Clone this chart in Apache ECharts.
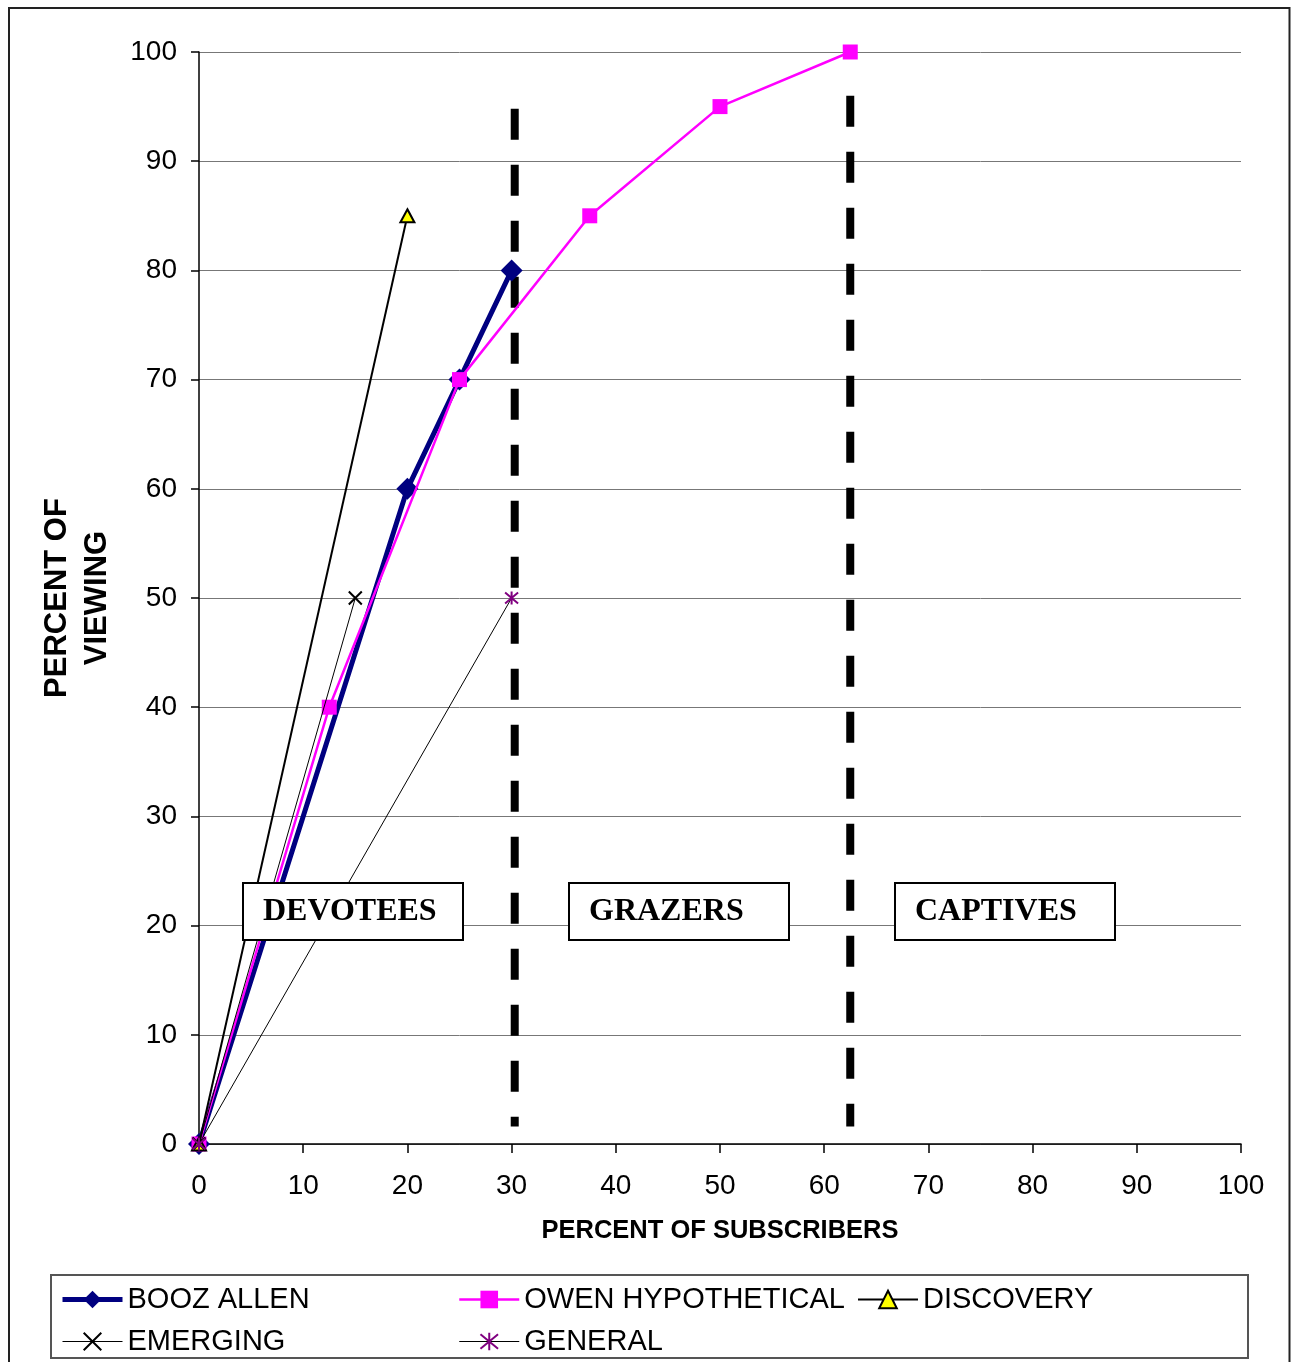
<!DOCTYPE html>
<html>
<head>
<meta charset="utf-8">
<title>Viewing concentration by subscriber segment</title>
<script src="https://cdn.jsdelivr.net/npm/echarts@6/dist/echarts.min.js"></script>
<style>
  html, body { margin: 0; padding: 0; background: #fff; }
  #chart { width: 1291px; height: 1362px; }
</style>
</head>
<body>
<div id="chart"></div>
<script>
// Cumulative percent of viewing vs. percent of subscribers
const boozX = [0, 20, 25, 30];
const boozY = [0, 60, 70, 80];
const owenX = [0, 12.5, 25, 37.5, 50, 62.5];
const owenY = [0, 40, 70, 85, 95, 100];
const discoveryX = [0, 20];
const discoveryY = [0, 85];
const emergingX = [0, 15];
const emergingY = [0, 50];
const generalX = [0, 30];
const generalY = [0, 50];

// Segment boundaries (dashed verticals): x position, top and bottom extent
const dividerX = [30.3, 62.5];
const dividerTop = [94.8, 96];
const dividerBottom = [1.6, 1.6];

const segmentNames = ['DEVOTEES', 'GRAZERS', 'CAPTIVES'];
const seriesNames = ['BOOZ ALLEN', 'OWEN HYPOTHETICAL', 'DISCOVERY', 'EMERGING', 'GENERAL'];

const pairs = (xs, ys) => xs.map((x, i) => [x, ys[i]]);

const FONT = "'Liberation Sans', Arial, sans-serif";
const SERIF = "'Liberation Serif', 'Times New Roman', serif";

const chart = echarts.init(document.getElementById('chart'), null, { renderer: 'canvas' });

const crossPath = 'path://M0,0L10,10M10,0L0,10';
const starPath = 'path://M0,0L10,10M10,0L0,10M5,-1L5,11';

const lineWidths = [5, 2.5, 2, 1, 1];

const dividerSeries = dividerX.map((x, i) => ({
  name: 'divider' + i,
  type: 'line',
  data: [[x, dividerTop[i]], [x, dividerBottom[i]]],
  symbol: 'none',
  silent: true,
  lineStyle: { color: '#000', width: 8, type: [31, 25] },
  z: 1
}));

// Segment label boxes
const boxLeft = [242, 568, 894];
const boxes = segmentNames.map((name, i) => ({
  type: 'group',
  left: boxLeft[i],
  top: 882,
  z: 100,
  children: [
    { type: 'rect', shape: { x: 0, y: 0, width: 220, height: 57 },
      style: { fill: '#fff', stroke: '#000', lineWidth: 2 }, z: 100 },
    { type: 'text', x: 20, y: 29,
      style: { text: name, font: 'bold 32px ' + SERIF, fill: '#000', verticalAlign: 'middle' }, z: 101 }
  ]
}));

const legendBase = {
  orient: 'vertical',
  padding: 0,
  itemWidth: 60,
  itemHeight: 22,
  itemGap: 13,
  textStyle: { fontFamily: FONT, fontSize: 29, color: '#000', lineHeight: 28, padding: [0, 0, 0, 0] },
  selectedMode: false
};
const legendItem = (idx) => ({ name: seriesNames[idx], lineStyle: { width: lineWidths[idx] } });

const option = {
  backgroundColor: '#fff',
  animation: false,
  grid: { left: 199, top: 52, width: 1042, height: 1092, containLabel: false },
  legend: [
    Object.assign({}, legendBase, { left: 60, top: 1285, data: [legendItem(0), legendItem(3)] }),
    Object.assign({}, legendBase, { left: 458, top: 1285, data: [legendItem(1), legendItem(4)] }),
    Object.assign({}, legendBase, { left: 857, top: 1285, data: [legendItem(2)] })
  ],
  xAxis: {
    type: 'value',
    min: 0, max: 100, interval: 10,
    name: 'PERCENT OF SUBSCRIBERS',
    nameLocation: 'middle',
    nameGap: 74,
    nameTextStyle: { fontFamily: FONT, fontSize: 25.5, fontWeight: 'bold', color: '#000' },
    axisLine: { onZero: false, lineStyle: { color: '#000', width: 1.5 } },
    axisTick: { show: true, length: 9, inside: false, lineStyle: { color: '#000', width: 1.5 } },
    axisLabel: { fontFamily: FONT, fontSize: 28, color: '#000', margin: 28 },
    splitLine: { show: false }
  },
  yAxis: {
    type: 'value',
    min: 0, max: 100, interval: 10,
    name: 'PERCENT OF\nVIEWING',
    nameLocation: 'middle',
    nameGap: 82,
    nameTextStyle: { fontFamily: FONT, fontSize: 31, fontWeight: 'bold', color: '#000', lineHeight: 40 },
    axisLine: { show: true, lineStyle: { color: '#000', width: 1.5 } },
    axisTick: { show: true, length: 8, inside: false, lineStyle: { color: '#000', width: 1.5 } },
    axisLabel: { fontFamily: FONT, fontSize: 28, color: '#000', margin: 22 },
    splitLine: { show: true, lineStyle: { color: '#777', width: 1 } }
  },
  graphic: [
    // outer frame
    { type: 'rect', shape: { x: 9, y: 8, width: 1280.5, height: 1370 },
      style: { fill: 'none', stroke: '#222', lineWidth: 2 }, z: 90, silent: true },
    // legend frame
    { type: 'rect', shape: { x: 51, y: 1275, width: 1197, height: 83 },
      style: { fill: 'none', stroke: '#555', lineWidth: 2 }, z: 90, silent: true }
  ].concat(boxes),
  series: [
    {
      name: seriesNames[0], type: 'line', data: pairs(boozX, boozY),
      symbol: 'diamond', symbolSize: 22,
      lineStyle: { color: '#000080', width: lineWidths[0] },
      itemStyle: { color: '#000080' }, z: 3
    },
    {
      name: seriesNames[1], type: 'line', data: pairs(owenX, owenY),
      symbol: 'rect', symbolSize: 15,
      lineStyle: { color: '#ff00ff', width: lineWidths[1] },
      itemStyle: { color: '#ff00ff' }, z: 4
    },
    {
      name: seriesNames[2], type: 'line', data: pairs(discoveryX, discoveryY),
      symbol: 'triangle', symbolSize: [14, 13],
      lineStyle: { color: '#000', width: lineWidths[2] },
      itemStyle: { color: '#ffff00', borderColor: '#000', borderWidth: 2 }, z: 5
    },
    {
      name: seriesNames[3], type: 'line', data: pairs(emergingX, emergingY),
      symbol: crossPath, symbolSize: 13,
      lineStyle: { color: '#000', width: lineWidths[3] },
      itemStyle: { color: '#000', borderColor: '#000', borderWidth: 2 }, z: 6
    },
    {
      name: seriesNames[4], type: 'line', data: pairs(generalX, generalY),
      symbol: starPath, symbolSize: 13,
      lineStyle: { color: '#000', width: lineWidths[4] },
      itemStyle: { color: '#800080', borderColor: '#800080', borderWidth: 2 }, z: 7
    }
  ].concat(dividerSeries)
};

chart.setOption(option);
</script>
</body>
</html>
